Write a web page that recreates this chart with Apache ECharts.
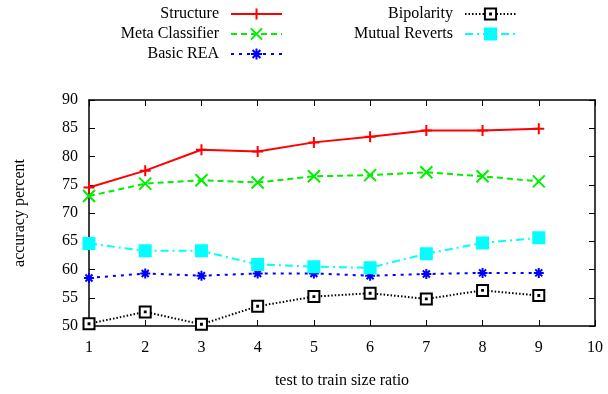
<!DOCTYPE html>
<html>
<head>
<meta charset="utf-8">
<script src="https://cdn.jsdelivr.net/npm/echarts@6/dist/echarts.min.js"></script>
<style>
  html, body { margin: 0; padding: 0; background: #fff; }
  #chart { width: 608px; height: 394px; }
</style>
</head>
<body>
<div id="chart"></div>
<script>
// x = test to train size ratio
var ratios = [1, 2, 3, 4, 5, 6, 7, 8, 9];

// accuracy percent per method
var structure      = [74.5, 77.5, 81.2, 80.9, 82.5, 83.5, 84.6, 84.6, 84.9];
var metaClassifier = [73.0, 75.2, 75.8, 75.4, 76.5, 76.7, 77.2, 76.5, 75.6];
var basicREA       = [58.5, 59.3, 58.9, 59.3, 59.3, 58.9, 59.2, 59.4, 59.4];
var bipolarity     = [50.4, 52.5, 50.3, 53.5, 55.2, 55.8, 54.8, 56.3, 55.4];
var mutualReverts  = [64.6, 63.3, 63.3, 60.9, 60.5, 60.3, 62.8, 64.7, 65.6];

var FONT = '"Liberation Serif", "DejaVu Serif", serif';

function pairs(vals) {
  return vals.map(function (v, i) { return [ratios[i], v]; });
}

// gnuplot style point types
var plusPath  = 'path://M5,0V10M0,5H10';
var crossPath = 'path://M0,0L10,10M10,0L0,10';
var starPath  = 'path://M5,0V10M0,5H10M1.5,1.5L8.5,8.5M8.5,1.5L1.5,8.5';
var boxPath   = 'path://M0,0H10V10H0Z M4.6,4.6H5.4V5.4H4.6Z';

function makeSeries(name, vals, color, dash, symbol, size, fill) {
  return {
    name: name,
    type: 'line',
    data: pairs(vals),
    symbol: symbol,
    symbolSize: size,
    showAllSymbol: true,
    lineStyle: { color: color, width: 2, type: dash },
    itemStyle: { color: fill || color, borderColor: color, borderWidth: 2 },
    emphasis: { disabled: true }
  };
}

var chart = echarts.init(document.getElementById('chart'));

var axisText = { color: '#000', fontFamily: FONT, fontSize: 16 };
var legendText = { color: '#000', fontFamily: FONT, fontSize: 16, lineHeight: 16, padding: [0, 7, 0, 0] };

chart.setOption({
  animation: false,
  textStyle: { fontFamily: FONT },
  grid: { left: 89, right: 13, top: 100, bottom: 66 },
  legend: [
    {
      data: ['Structure', 'Meta Classifier', 'Basic REA'],
      orient: 'vertical', align: 'right',
      right: 320, top: 1,
      itemWidth: 51, itemHeight: 14, itemGap: 4,
      textStyle: legendText
    },
    {
      data: ['Bipolarity', 'Mutual Reverts'],
      orient: 'vertical', align: 'right',
      right: 86, top: 1,
      itemWidth: 51, itemHeight: 14, itemGap: 4,
      textStyle: legendText
    }
  ],
  xAxis: [
    {
      type: 'value', min: 1, max: 10, interval: 1,
      name: 'test to train size ratio', nameLocation: 'middle', nameGap: 47,
      nameTextStyle: axisText,
      axisLine: { lineStyle: { color: '#000', width: 1.5 } },
      axisTick: { inside: true, length: 6, lineStyle: { color: '#000' } },
      axisLabel: { color: '#000', fontFamily: FONT, fontSize: 16, margin: 14 },
      splitLine: { show: false }
    },
    {
      type: 'value', min: 1, max: 10, interval: 1, position: 'top',
      axisLine: { lineStyle: { color: '#000', width: 1.5 } },
      axisTick: { inside: true, length: 6, lineStyle: { color: '#000' } },
      axisLabel: { show: false },
      splitLine: { show: false }
    }
  ],
  yAxis: [
    {
      type: 'value', min: 50, max: 90, interval: 5,
      name: 'accuracy percent', nameLocation: 'middle', nameGap: 61,
      nameTextStyle: axisText,
      axisLine: { show: true, lineStyle: { color: '#000', width: 1.5 } },
      axisTick: { show: true, inside: true, length: 6, lineStyle: { color: '#000' } },
      axisLabel: { color: '#000', fontFamily: FONT, fontSize: 16, margin: 11 },
      splitLine: { show: false }
    },
    {
      type: 'value', min: 50, max: 90, interval: 5, position: 'right',
      axisLine: { show: true, lineStyle: { color: '#000', width: 1.5 } },
      axisTick: { show: true, inside: true, length: 6, lineStyle: { color: '#000' } },
      axisLabel: { show: false },
      splitLine: { show: false }
    }
  ],
  series: [
    makeSeries('Structure', structure, '#ff0000', 'solid', plusPath, 11),
    makeSeries('Meta Classifier', metaClassifier, '#00ee00', [6, 4], crossPath, 12),
    makeSeries('Basic REA', basicREA, '#0000ff', [3, 5], starPath, 10),
    makeSeries('Bipolarity', bipolarity, '#000000', [1.5, 2], boxPath, 11, '#ffffff'),
    makeSeries('Mutual Reverts', mutualReverts, '#00ffff', [8, 4, 2, 4], 'rect', 11)
  ]
});
</script>
</body>
</html>
